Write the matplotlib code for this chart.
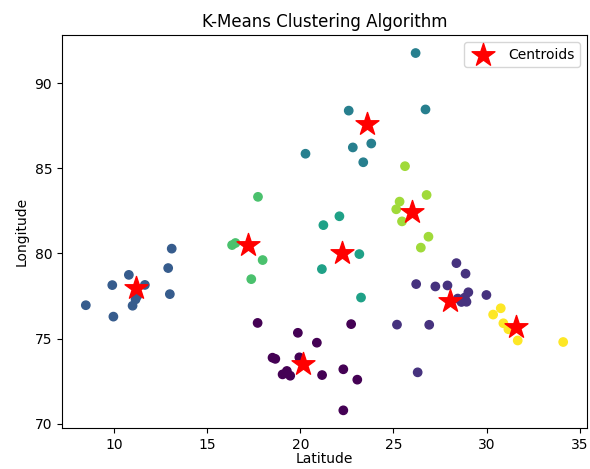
import numpy as np
import matplotlib
matplotlib.use("Agg")
import matplotlib.pyplot as plt

# points, one list per cluster
lat_0 = [17.71, 19.87, 20.89, 18.51, 18.66, 19.95, 19.28, 19.05, 19.46, 21.17, 22.73, 22.31, 23.06, 22.31]
lon_0 = [75.92, 75.34, 74.76, 73.88, 73.81, 73.90, 73.10, 72.90, 72.82, 72.86, 75.85, 73.20, 72.59, 70.79]
lat_1 = [28.38, 28.87, 26.22, 27.25, 27.90, 29.02, 29.99, 28.83, 28.65, 28.92, 28.45, 25.19, 26.92, 26.30]
lon_1 = [79.43, 78.81, 78.20, 78.06, 78.12, 77.72, 77.56, 77.41, 77.15, 77.16, 77.35, 75.82, 75.81, 73.02]
lat_2 = [13.10, 12.91, 10.80, 9.91, 11.66, 11.16, 11.00, 13.00, 8.49, 9.97, 11.25]
lon_2 = [80.28, 79.14, 78.74, 78.14, 78.15, 77.30, 76.93, 77.61, 76.96, 76.29, 77.50]
lat_3 = [26.19, 22.60, 26.72, 20.28, 22.82, 23.81, 23.38]
lon_3 = [91.76, 88.38, 88.45, 85.85, 86.22, 86.45, 85.35]
lat_4 = [21.24, 22.10, 23.17, 21.16, 23.26]
lon_4 = [81.66, 82.18, 79.96, 79.08, 77.41]
lat_5 = [17.73, 16.34, 16.52, 17.98, 17.37]
lon_5 = [83.32, 80.49, 80.61, 79.61, 78.49]
lat_6 = [25.62, 26.78, 25.33, 25.15, 25.46, 26.88, 26.47]
lon_6 = [85.12, 83.43, 83.04, 82.59, 81.88, 80.98, 80.34]
lat_7 = [30.76, 30.35, 30.90, 31.17, 31.67, 34.11]
lon_7 = [76.78, 76.41, 75.90, 75.55, 74.89, 74.80]

centroid_lat = [20.15, 28.03, 11.21, 23.56, 22.23, 17.19, 26.00, 31.56]
centroid_lon = [73.50, 77.22, 77.98, 87.61, 80.02, 80.49, 82.41, 75.70]

all_lat = [lat_0, lat_1, lat_2, lat_3, lat_4, lat_5, lat_6, lat_7]
all_lon = [lon_0, lon_1, lon_2, lon_3, lon_4, lon_5, lon_6, lon_7]

x = np.concatenate(all_lat)
y = np.concatenate(all_lon)
labels = np.concatenate([[k] * len(v) for k, v in enumerate(all_lat)])

fig = plt.figure(figsize=(5.9, 4.69), dpi=100)
ax = fig.add_axes([0.105, 0.087, 0.89, 0.838])

ax.scatter(x, y, c=labels, cmap='viridis')
ax.scatter(centroid_lat, centroid_lon, marker='*', s=300, c='red', label='Centroids')

ax.set_title("K-Means Clustering Algorithm")
ax.set_xlabel("Latitude", labelpad=0)
ax.set_ylabel("Longitude")
ax.legend(loc='upper right')

fig.savefig("out.png", dpi=100)
